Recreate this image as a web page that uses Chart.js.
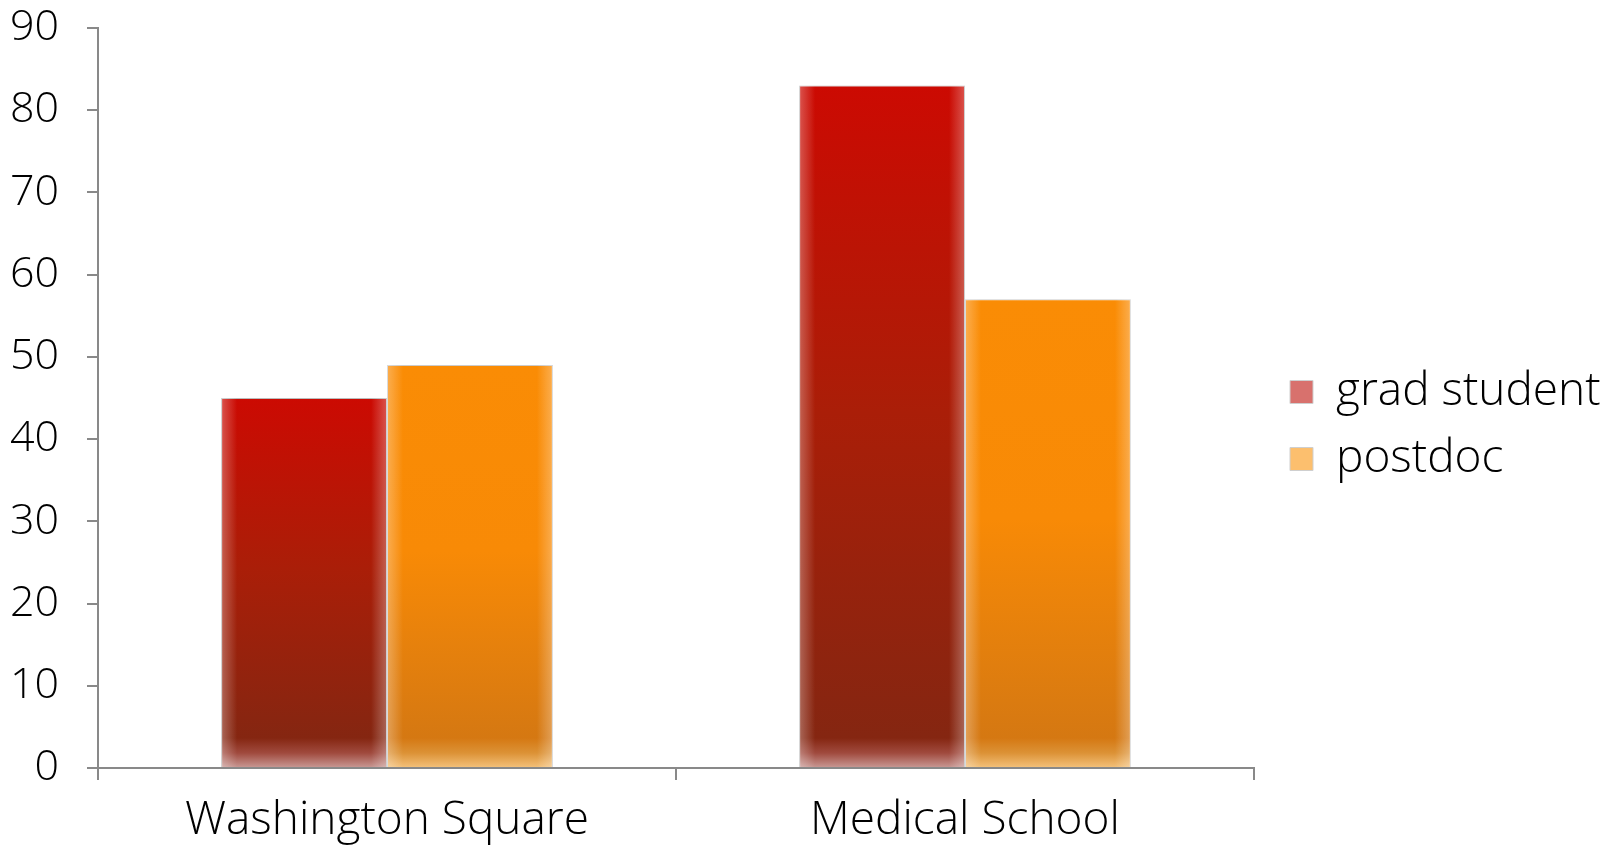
<!DOCTYPE html>
<html>
<head>
<meta charset="utf-8">
<script src="https://cdn.jsdelivr.net/npm/chart.js@4.4.1/dist/chart.umd.min.js"></script>
<style>
  html, body { margin: 0; padding: 0; background: #fff; }
  #wrap { width: 1614px; height: 847px; }
</style>
</head>
<body>
<div id="wrap"><canvas id="barChart" width="1614" height="847"></canvas></div>
<script>
// data
const categories = ['Washington Square', 'Medical School']
const seriesNames = ['grad student', 'postdoc']
const gradStudent = [45, 83]
const postdoc = [49, 57]
const yMin = 0
const yMax = 90
const yStep = 10

const fontFamily = '"Open Sans", "Noto Sans", sans-serif'
const fontWeight = 300
const fontSize = 46
const tickFontSize = 43
const axisGrey = '#898989'

// bar shading: top colour -> darker bottom, then a short pale fade at the foot
const redShade = { top: '#cc0a02', mid: '#aa1e08', low: '#852611', fade: '#a04a3e', base: '#c99a96' }
const orangeShade = { top: '#fa8c05', mid: '#f88a06', low: '#d57812', fade: '#dc9236', base: '#f4c27c' }
const legendFill = ['#d8716d', '#fcbf6e']

const barFill = (shade) => (c) => {
    const chart = c.chart
    const yScale = chart.scales.y
    if (!yScale || c.type !== 'data') return shade.top
    const top = yScale.getPixelForValue(c.raw)
    const bottom = yScale.getPixelForValue(0)
    const h = bottom - top
    if (!(h > 0)) return shade.top
    const fade = Math.max(0, 1 - 30 / h)
    const g = chart.ctx.createLinearGradient(0, top, 0, bottom)
    g.addColorStop(0, shade.top)
    g.addColorStop(fade * 0.5, shade.mid)
    g.addColorStop(fade, shade.low)
    g.addColorStop(fade + (1 - fade) * 0.5, shade.fade)
    g.addColorStop(1, shade.base)
    return g
}

// lighter soft edges on the sides of each bar
const edgeGlow = {
    id: 'edgeGlow',
    afterDatasetsDraw(chart) {
        const ctx = chart.ctx
        ctx.save()
        chart.data.datasets.forEach((ds, i) => {
            chart.getDatasetMeta(i).data.forEach((bar) => {
                const { x, y, base, width } = bar.getProps(['x', 'y', 'base', 'width'], true)
                const left = x - width / 2
                const right = x + width / 2
                const w = 16
                let g = ctx.createLinearGradient(left, 0, left + w, 0)
                g.addColorStop(0, 'rgba(255,255,255,0.30)')
                g.addColorStop(1, 'rgba(255,255,255,0)')
                ctx.fillStyle = g
                ctx.fillRect(left, y, w, base - y)
                g = ctx.createLinearGradient(right - w, 0, right, 0)
                g.addColorStop(0, 'rgba(255,255,255,0)')
                g.addColorStop(1, 'rgba(255,255,255,0.30)')
                ctx.fillStyle = g
                ctx.fillRect(right - w, y, w, base - y)
            })
        })
        ctx.restore()
    }
}

// layout numbers
const yAxisWidth = 98
const xAxisHeight = 79
const topPad = 28
const legendPad = 21
const legendBox = 23
const legendTextX = 1336
const chartRight = 1254
const legendLeft = legendTextX - legendBox - fontSize / 2 - legendPad
const gapWidth = legendLeft - chartRight
const legendWidth = 1614 - legendLeft

const ctx = document.getElementById('barChart').getContext('2d')
const myChart = new Chart(ctx, {
    type: 'bar',
    data: {
        labels: categories,
        datasets: [
            {
                label: seriesNames[0],
                data: gradStudent,
                backgroundColor: barFill(redShade),
                borderColor: 'rgba(170,170,170,0.8)',
                borderWidth: { top: 1, left: 1, right: 1, bottom: 0 },
                borderSkipped: false
            },
            {
                label: seriesNames[1],
                data: postdoc,
                backgroundColor: barFill(orangeShade),
                borderColor: 'rgba(190,190,190,0.8)',
                borderWidth: { top: 1, left: 1, right: 1, bottom: 0 },
                borderSkipped: false
            }
        ]
    },
    options: {
        responsive: false,
        animation: false,
        layout: { padding: { top: topPad, right: 0, bottom: 0, left: 0 } },
        datasets: { bar: { categoryPercentage: 0.574, barPercentage: 1.0 } },
        scales: {
            x: {
                offset: true,
                grid: { offset: true, drawOnChartArea: false, drawTicks: true, tickLength: 12, color: axisGrey, lineWidth: 2 },
                border: { color: axisGrey, width: 2 },
                ticks: { color: '#000', padding: 13, font: { family: fontFamily, size: fontSize, weight: fontWeight } },
                afterFit: (s) => {
                    s.height = xAxisHeight
                    s.paddingLeft = 0
                    s.paddingRight = 0
                }
            },
            y: {
                min: yMin,
                max: yMax,
                ticks: { stepSize: yStep, color: '#000', padding: 28, font: { family: fontFamily, size: tickFontSize, weight: fontWeight } },
                grid: { drawOnChartArea: false, drawTicks: true, tickLength: 11, color: axisGrey, lineWidth: 2 },
                border: { color: axisGrey, width: 2 },
                afterFit: (s) => {
                    s.width = yAxisWidth
                    s.paddingTop = 0
                    s.paddingBottom = 0
                }
            },
            gap: {
                type: 'linear',
                position: 'right',
                display: true,
                grid: { display: false },
                border: { display: false },
                ticks: { display: false },
                afterFit: (s) => {
                    s.width = gapWidth
                    s.paddingTop = 0
                    s.paddingBottom = 0
                }
            }
        },
        plugins: {
            tooltip: { enabled: false },
            legend: {
                position: 'right',
                fullSize: false,
                title: { display: true, text: '', font: { size: 1, lineHeight: 1 }, padding: { top: 54, bottom: 0 } },
                labels: {
                    boxWidth: legendBox,
                    boxHeight: legendBox,
                    padding: legendPad,
                    color: '#000',
                    font: { family: fontFamily, size: fontSize, weight: fontWeight },
                    generateLabels: (chart) => Chart.defaults.plugins.legend.labels.generateLabels(chart).map((item, i) => ({
                        ...item,
                        fillStyle: legendFill[i],
                        strokeStyle: '#cfcfcf',
                        lineWidth: 1
                    }))
                }
            }
        }
    },
    plugins: [edgeGlow]
})

// the legend measures its own text too narrow here, so give it a fixed width
const legendFit = myChart.legend.fit
myChart.legend.fit = function () {
    legendFit.call(this)
    this.width = legendWidth
}
myChart.update()
</script>
</body>
</html>
